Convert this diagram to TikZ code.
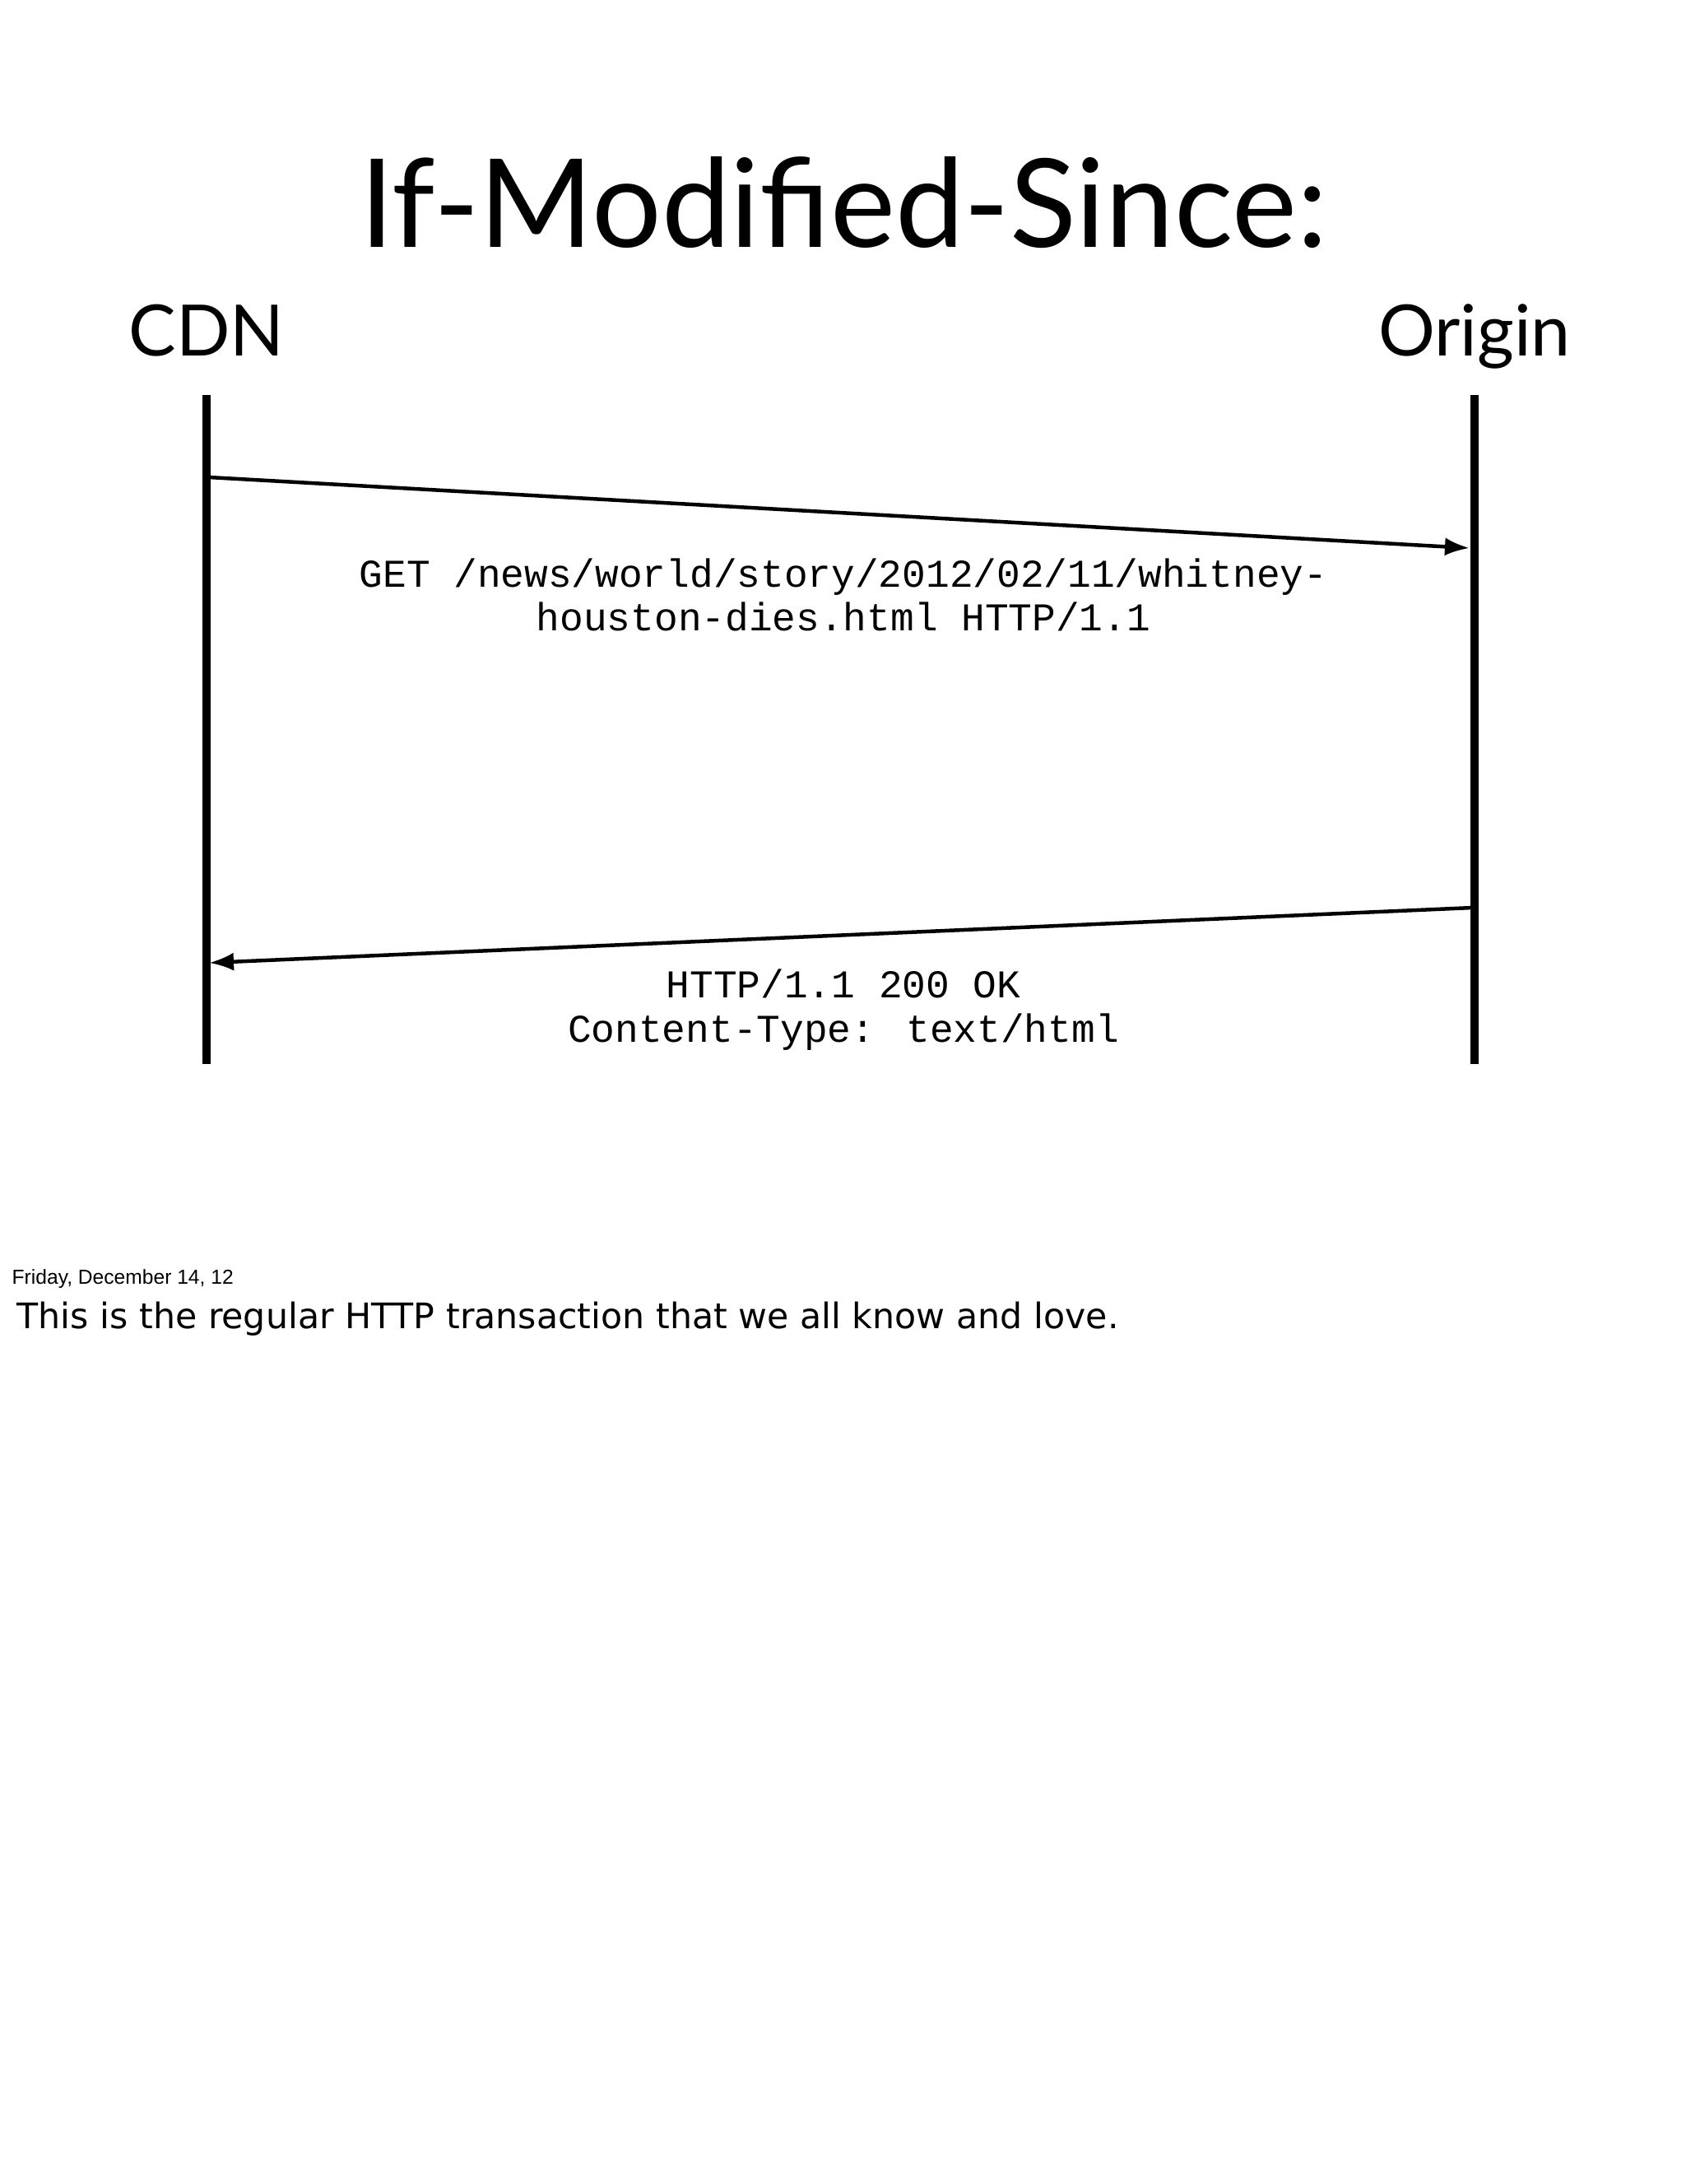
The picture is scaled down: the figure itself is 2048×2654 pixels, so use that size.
\documentclass[tikz,border=0pt]{standalone}
\usepackage{fontspec}
\setmainfont{Lato}
\newfontfamily\monof{Liberation Mono}
\newfontfamily\helv{Liberation Sans}
\newfontfamily\dejav{DejaVu Sans}
\usetikzlibrary{arrows.meta}
\begin{document}
\begin{tikzpicture}[x=0.01cm,y=-0.01cm,
  life/.style={line width=0.1cm},
  msg/.style={line width=0.045cm,-{Latex[length=0.3cm,width=0.22cm]}},
  lbl/.style={font=\monof\fontsize{13.6}{15.3}\selectfont,align=center},
  actor/.style={font=\fontsize{24.5}{28}\selectfont,anchor=base}]
\fill[white] (0,0) rectangle (2048,2654);
\node[font=\fontsize{42.5}{50}\selectfont,anchor=base] (title) at (1025,300) {If-Modified-Since:};
\node[actor] (cdn) at (251,432) {CDN};
\node[actor] (org) at (1792,432) {Origin};
\coordinate (ct) at (251,480); \coordinate (cb) at (251,1293);
\coordinate (ot) at (1792,480); \coordinate (ob) at (1792,1293);
\draw[life] (ct) -- (cb);
\draw[life] (ot) -- (ob);
\coordinate (a1s) at (254,580); \coordinate (a1e) at (1786,666);
\coordinate (a2s) at (1790,1103); \coordinate (a2e) at (254,1170);
\draw[msg] (a1s) -- (a1e);
\draw[msg] (a2s) -- (a2e);
\node[lbl] (l1) at (1025,723) {GET /news/world/story/2012/02/11/whitney-\\houston-dies.html HTTP/1.1};
\node[lbl] (l2) at (1025,1227) {HTTP/1.1 200 OK\\Content-Type: text/html};
\node[anchor=west,font=\helv\fontsize{7}{8}\selectfont,inner sep=0] (date) at (14,1554) {Friday, December 14, 12};
\node[anchor=west,font=\dejav\fontsize{12.15}{14}\selectfont,inner sep=0] (note) at (20,1603) {This is the regular HTTP transaction that we all know and love.};
\end{tikzpicture}
\end{document}
